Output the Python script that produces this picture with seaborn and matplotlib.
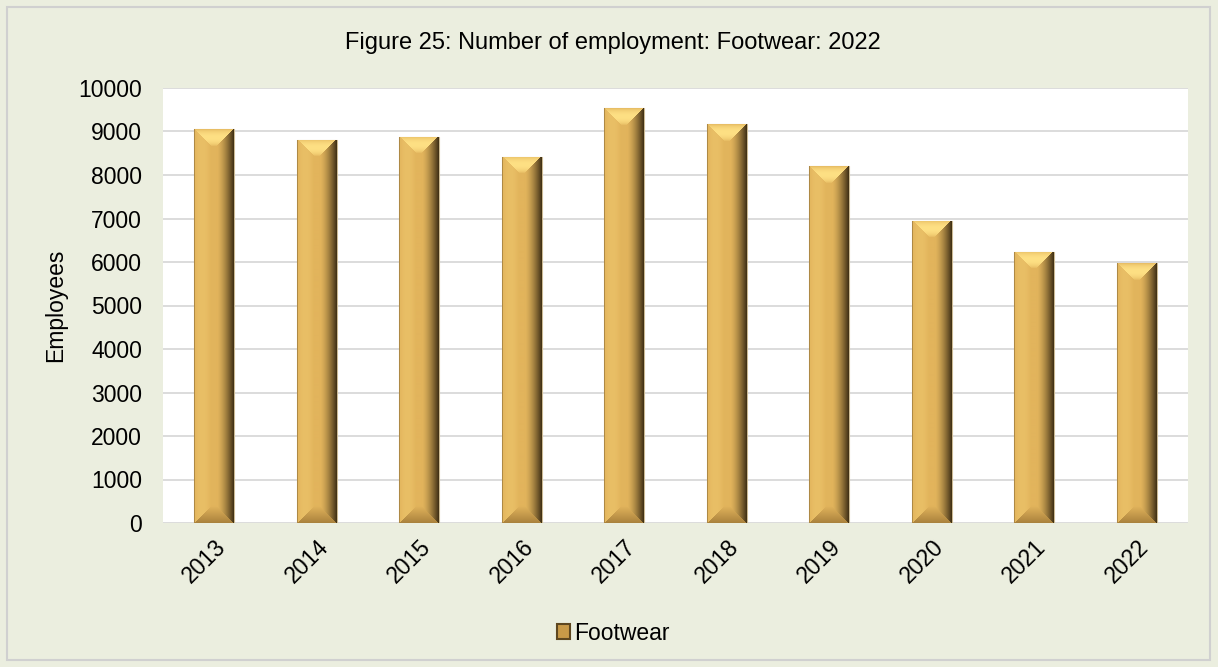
import numpy as np
import pandas as pd
import matplotlib
matplotlib.use("Agg")
import matplotlib.pyplot as plt
from matplotlib.patches import Rectangle, Patch
import seaborn as sns

years = ["2013", "2014", "2015", "2016", "2017", "2018", "2019", "2020", "2021", "2022"]
employees = [9050, 8805, 8875, 8415, 9535, 9165, 8205, 6945, 6230, 5970]
y_ticks = [0, 1000, 2000, 3000, 4000, 5000, 6000, 7000, 8000, 9000, 10000]

sns.set_theme(style="white")
plt.rcParams["font.family"] = ["Liberation Sans", "DejaVu Sans"]
plt.rcParams["text.color"] = "black"
plt.rcParams["axes.labelcolor"] = "black"

BG = "#EBEEDF"
FACE = np.array([226, 180, 92]) / 255
LIGHT = np.array([254, 224, 132]) / 255
DARK = np.array([52, 38, 16]) / 255
LOW = np.array([150, 112, 50]) / 255

fig = plt.figure(figsize=(12.18, 6.67), dpi=100, facecolor=BG)
ax = fig.add_axes([163 / 1218, 1 - 523 / 667, (1188 - 163) / 1218, (523 - 88) / 667])
ax.set_facecolor("white")

df = pd.DataFrame({"Year": years, "Employees": employees})
sns.barplot(data=df, x="Year", y="Employees", color=tuple(FACE), width=0.39,
            saturation=1, ax=ax, zorder=3, edgecolor="#CDBB95", linewidth=0.8)

ax.set_xlim(-0.5, len(years) - 0.5)
ax.set_ylim(0, 10000)
ax.set_yticks(y_ticks)
ax.yaxis.grid(True, color="#D9D9D9", linewidth=1.3, zorder=0)
ax.set_axisbelow(True)
for s in ax.spines.values():
    s.set_visible(False)


def bevel_image(wpx, hpx, b=17):
    """RGB image of a bar with an angled bevel frame."""
    wpx = max(int(round(wpx)), 2)
    hpx = max(int(round(hpx)), 2)
    xs = np.arange(wpx)[None, :] + 0.5
    ys = np.arange(hpx)[:, None] + 0.5
    dl = np.broadcast_to(xs, (hpx, wpx))
    dr = np.broadcast_to(wpx - xs, (hpx, wpx))
    dt = np.broadcast_to(ys, (hpx, wpx))
    db = np.broadcast_to(hpx - ys, (hpx, wpx))
    stack = np.stack([dl, dr, dt, db])
    side = np.argmin(stack, axis=0)
    m = np.min(stack, axis=0)
    img = np.empty((hpx, wpx, 3))
    img[:] = FACE
    t = np.clip(m / b, 0, 1)
    inner = m < b
    # left bevel: slightly lighter, thin dark rim
    sel = inner & (side == 0)
    k = (0.25 * np.sin(np.pi * t))[sel][:, None]
    img[sel] = FACE * (1 - k) + LIGHT * k
    rim = (side == 0) & (m < 1.2)
    img[rim] = FACE * 0.7 + DARK * 0.3
    # right bevel: fades to dark at the edge
    sel = inner & (side == 1)
    k = ((1 - t) ** 1.5 * 0.95)[sel][:, None]
    img[sel] = FACE * (1 - k) + DARK * k
    # top bevel: bright highlight band
    sel = inner & (side == 2)
    k = (np.sin(np.pi * t) ** 0.6)[sel][:, None]
    img[sel] = FACE * (1 - k) + LIGHT * k
    # bottom bevel: shaded
    sel = inner & (side == 3)
    k = ((1 - t) * 0.75)[sel][:, None]
    img[sel] = FACE * (1 - k) + LOW * k
    return img


to_px = ax.transData
for p in list(ax.patches):
    x0, y0 = p.get_x(), p.get_y()
    w, h = p.get_width(), p.get_height()
    (px0, py0), (px1, py1) = to_px.transform([(x0, y0), (x0 + w, y0 + h)])
    img = bevel_image(px1 - px0, py1 - py0)
    im = ax.imshow(img, extent=[x0, x0 + w, y0, y0 + h], aspect="auto",
                   interpolation="bilinear", zorder=3.5)
    im.set_clip_path(p)

ax.set_xlim(-0.5, len(years) - 0.5)
ax.set_ylim(0, 10000)

ax.tick_params(axis="y", labelsize=16.5, labelcolor="black", length=0, pad=15)
ax.tick_params(axis="x", labelsize=16.5, labelcolor="black", length=0, pad=9)
plt.setp(ax.get_xticklabels(), rotation=45, ha="right", rotation_mode="anchor")
ax.set_xlabel("")
ax.set_ylabel("Employees", fontsize=16.5, labelpad=8)

fig.text(613 / 1218, 1 - 43 / 667, "Figure 25: Number of employment: Footwear: 2022",
         ha="center", va="center", fontsize=17)

handle = Patch(facecolor="#C99A48", edgecolor="#5E4720", linewidth=1.5, label="Footwear")
fig.legend(handles=[handle], loc="center", bbox_to_anchor=(613 / 1218, 1 - 633 / 667),
           frameon=False, fontsize=16.5, handlelength=0.6, handleheight=0.6,
           handletextpad=0.15)

fig.add_artist(Rectangle((7 / 1218, 7 / 667), 1203 / 1218, 653 / 667,
                         transform=fig.transFigure, fill=False,
                         edgecolor="#D0D0D0", linewidth=1.5))

fig.savefig("out.png", dpi=100, facecolor=BG)
